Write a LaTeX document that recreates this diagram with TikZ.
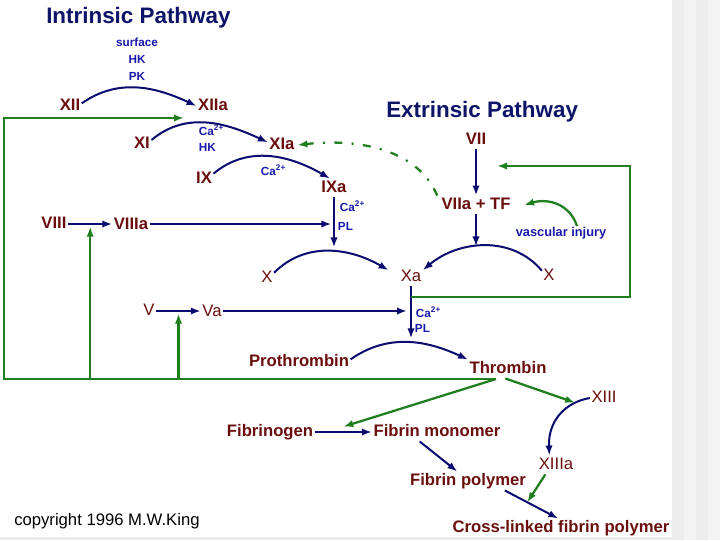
\documentclass[tikz,border=0pt]{standalone}
\usepackage{fontspec}
\setmainfont{Liberation Sans}
\usetikzlibrary{arrows.meta}
\definecolor{facred}{HTML}{6B0E0E}
\definecolor{navy}{HTML}{0C0C70}
\definecolor{fbgreen}{HTML}{1F7F1F}
\definecolor{cofblue}{HTML}{1A1AAA}
\definecolor{ttlblue}{HTML}{0E1568}
\definecolor{stripeA}{HTML}{EDEDED}
\definecolor{stripeB}{HTML}{F4F4F4}

\begin{document}
\begin{tikzpicture}[
			x=0.75pt,y=-0.75pt,
			fac/.style={font=\fontsize{12.5}{14}\selectfont\bfseries,text=facred,inner sep=1pt,text height=9.2pt,text depth=2.6pt},
			facn/.style={fac,font=\fontsize{12.5}{14}\selectfont},
			cof/.style={font=\fontsize{8.8}{10}\selectfont\bfseries,text=cofblue,inner sep=0.5pt},
			ttl/.style={font=\fontsize{16.8}{18}\selectfont\bfseries,text=ttlblue,anchor=west,inner sep=0pt},
			arr/.style={-{Latex[length=7.5pt,width=5.5pt]},line width=1.5pt,navy},
			fb/.style={line width=1.7pt,fbgreen},
			fbarr/.style={fb,-{Latex[length=7.5pt,width=5.5pt]}}
			]
			\useasboundingbox (0,0) rectangle (720,540);
			% page background
			\fill[white] (0,0) rectangle (720,540);
			\foreach \x/\c in {672/stripeA,684/stripeB,696/stripeA,708/stripeB}
				\fill[\c] (\x,0) rectangle (\x+12,540);
			\fill[stripeA] (0,537) rectangle (672,540);

			% titles
			\node[ttl] (tin) at (46,18) {Intrinsic Pathway};
			\node[ttl] (tex) at (386,112) {Extrinsic Pathway};

			% factors
			\node[fac] (XII) at (70,106) {XII};
			\node[fac] (XIIa) at (213,106) {XIIa};
			\node[fac] (XI) at (142,144) {XI};
			\node[fac] (XIa) at (282,145) {XIa};
			\node[fac] (IX) at (204,179) {IX};
			\node[fac] (IXa) at (334,188) {IXa};
			\node[fac] (VIII) at (54,224) {VIII};
			\node[fac] (VIIIa) at (131,225) {VIIIa};
			\node[facn] (Xl) at (267,278) {X};
			\node[facn] (Xa) at (411,277) {Xa};
			\node[facn] (Xr) at (549,276) {X};
			\node[facn] (V) at (149,311) {V};
			\node[facn] (Va) at (212,312) {Va};
			\node[fac] (VII) at (476,140) {VII};
			\node[fac] (VIIa) at (476,205) {VIIa + TF};
			\node[fac] (Pro) at (299,362) {Prothrombin};
			\node[fac] (Thr) at (508,369) {Thrombin};
			\node[facn] (XIII) at (604,398) {XIII};
			\node[facn] (XIIIa) at (556,465) {XIIIa};
			\node[fac] (Fgn) at (270,432) {Fibrinogen};
			\node[fac] (FM) at (437,432) {Fibrin monomer};
			\node[fac] (FP) at (468,481) {Fibrin polymer};
			\node[fac] (CL) at (561,528) {Cross-linked fibrin polymer};
			\node[font=\fontsize{12.5}{14}\selectfont,inner sep=0pt,anchor=west] (copy) at (14,521) {copyright 1996 M.W.King};

			% cofactors
			\node[cof] (surf) at (137,42) {surface};
			\node[cof] (hk1) at (137,59) {HK};
			\node[cof] (pk1) at (137,76) {PK};
			\node[cof,anchor=west] (ca1) at (198,130) {Ca\textsuperscript{2+}};
			\node[cof,anchor=west] (hk2) at (198,147) {HK};
			\node[cof,anchor=west] (ca2) at (260,170) {Ca\textsuperscript{2+}};
			\node[cof,anchor=west] (ca3) at (339,206) {Ca\textsuperscript{2+}};
			\node[cof,anchor=west] (pl1) at (337,226) {PL};
			\node[cof,anchor=west] (ca4) at (415,312) {Ca\textsuperscript{2+}};
			\node[cof,anchor=west] (pl2) at (414,328) {PL};
			\node[cof,font=\fontsize{9.6}{11}\selectfont\bfseries] (vasc) at (561,233) {vascular injury};

			% intrinsic cascade
			\draw[arr] ([yshift=2pt]XII.east) to[out=35,in=155] (XIIa.west);
			\draw[arr] ([yshift=3pt]XI.east) to[out=40,in=155] ([yshift=2pt]XIa.west);
			\draw[arr] ([yshift=4pt]IX.east) to[out=40,in=150] ([xshift=-3pt]IXa.north);
			\draw[arr] (VIII.east) -- coordinate (m8) (VIII.east -| VIIIa.west);
			\draw[arr] (VIIIa.east |- VIII) -- ([xshift=-2pt]VIII -| IXa);
			\draw[arr] (IXa.south) -- ++(0,50);
			\draw[arr] ([yshift=4pt]Xl.east) to[out=45,in=150] ([xshift=-8pt,yshift=-2pt]Xa.north west);
			\draw[arr] (V.east) -- coordinate (m5) (V.east -| Va.west);
			\draw[arr] (Va.east |- V) -- ([xshift=-3pt]V -| Xa);

			% extrinsic cascade
			\draw[arr] (VII.south) -- (VII.south |- VIIa.north);
			\draw[arr] (VIIa.south) -- ++(0,32);
			\draw[arr] ([yshift=4pt]Xr.west) to[out=130,in=40] ([yshift=-2pt]Xa.north east);

			% common pathway
			\draw[arr] (Xa.south) -- coordinate[pos=0.2] (xaFb) ++(0,52);
			\draw[arr] ([yshift=2pt]Pro.east) to[out=35,in=155] (Thr.north west);
			\draw[arr] (Fgn.east) -- coordinate (mFib) (FM.west);
			\draw[arr] ([xshift=-13pt]FM.south) -- ([xshift=-8pt]FP.north);
			\draw[arr] ([xshift=-17pt]FP.south east) -- coordinate[pos=0.42] (mCL) ([xshift=-2pt]CL.north);
			\draw[arr] (XIII.west) .. controls (566,402) and (548,420) .. coordinate[pos=0.22] (c13) ([xshift=-5pt]XIIIa.north);

			% feedback loops
			\coordinate (gTL) at (4,118);
			\coordinate (gXI) at (184,118);
			\coordinate (gRT) at (630,166);
			\coordinate (gVII) at (497,166);
			\coordinate (gTh) at (496,379);
			\draw[fbarr] (gTh) -| (gTL) -- (gXI);
			\draw[fbarr] (m8 |- gTh) -- ([yshift=-2pt]m8);
			\draw[fbarr] (m5 |- gTh) -- ([yshift=-2pt]m5);
			\draw[fbarr] (xaFb) -| (gRT) -- (gVII);
			\draw[fbarr] (gTh) -- ([yshift=4pt]mFib);
			\draw[fbarr] ([xshift=-2pt]Thr.south) -- (c13);
			\draw[fbarr] ([xshift=-8pt]XIIIa.south) -- (mCL);
			\draw[fbarr] ([xshift=12pt]vasc.north) .. controls (570,204) and (548,198) .. ([xshift=9pt]VIIa.east);
			\draw[fbarr,dash pattern=on 6pt off 7pt on 1.5pt off 7pt] ([xshift=-2pt]VIIa.north west) .. controls (418,150) and (360,138) .. ([xshift=1pt]XIa.east);
		\end{tikzpicture}
\end{document}
